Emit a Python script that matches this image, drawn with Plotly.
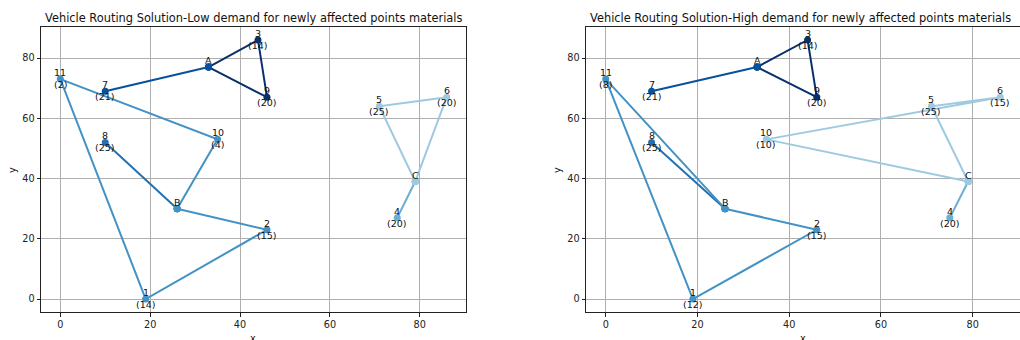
import plotly.graph_objects as go

# ---- data ----
node_names = ["1", "2", "3", "4", "5", "6", "7", "8", "9", "10", "11", "A", "B", "C"]
node_x = [19, 46, 44, 75, 71, 86, 10, 10, 46, 35, 0, 33, 26, 79]
node_y = [0, 23, 86, 27, 64, 67, 69, 52, 67, 53, 73, 77, 30, 39]
depots = ["A", "B", "C"]

demand_low = [14, 15, 14, 20, 25, 20, 21, 25, 20, 4, 2]
demand_high = [12, 15, 14, 20, 25, 15, 21, 25, 20, 10, 8]

routes_low = [
    ["A", "3", "9", "A"],
    ["A", "7", "A"],
    ["B", "8", "B"],
    ["B", "10", "11", "1", "2", "B"],
    ["C", "4", "C"],
    ["C", "5", "6", "C"],
]
routes_high = [
    ["A", "3", "9", "A"],
    ["A", "7", "A"],
    ["B", "8", "B"],
    ["B", "11", "1", "2", "B"],
    ["C", "4", "C"],
    ["C", "10", "6", "5", "C"],
]
route_colors = ["#08306b", "#08519c", "#2171b5", "#4292c6", "#6baed6", "#9ecae1"]

titles = [
    "Vehicle Routing Solution-Low demand for newly affected points materials",
    "Vehicle Routing Solution-High demand for newly affected points materials",
]
tick_vals = [0, 20, 40, 60, 80]

# ---- layout geometry ----
W, H = 1020, 340
FONT = "DejaVu Sans"
x_domains = [[41 / W, 466 / W], [586 / W, 1.0]]
y_domain = [28 / H, 313 / H]
x_range = [-4.3, 90.3]
y_range = [-4.3, 90.3]

pos = {n: (x, y) for n, x, y in zip(node_names, node_x, node_y)}

fig = go.Figure()
annotations = []

for p, (routes, demands) in enumerate([(routes_low, demand_low), (routes_high, demand_high)]):
    xa = "x" if p == 0 else "x2"
    ya = "y" if p == 0 else "y2"
    for r, color in zip(routes, route_colors):
        fig.add_trace(go.Scatter(
            x=[pos[n][0] for n in r], y=[pos[n][1] for n in r],
            mode="lines+markers", xaxis=xa, yaxis=ya,
            line=dict(color=color, width=2),
            marker=dict(color=color, size=7),
            showlegend=False, hoverinfo="skip",
        ))
    # node labels
    for i, n in enumerate(node_names):
        x, y = pos[n]
        annotations.append(dict(
            x=x, y=y, xref=xa, yref=ya, text=n, showarrow=False,
            xanchor="center", yanchor="bottom", yshift=-1,
            font=dict(family=FONT, size=9.5, color="#111"),
        ))
        if n not in depots:
            annotations.append(dict(
                x=x, y=y, xref=xa, yref=ya, text="(%d)" % demands[i], showarrow=False,
                xanchor="center", yanchor="top", yshift=2,
                font=dict(family=FONT, size=9.5, color="#111"),
            ))
    # title
    cx = (x_domains[p][0] + x_domains[p][1]) / 2
    if p == 1:
        cx = (586 + 1014) / 2 / W
    annotations.append(dict(
        x=cx, y=(H - 27) / H, xref="paper", yref="paper", text=titles[p],
        showarrow=False, xanchor="center", yanchor="bottom",
        font=dict(family=FONT, size=11.4, color="#111"),
    ))
    # axis labels
    xl = [253, 803][p]
    annotations.append(dict(
        x=xl / W, y=(H - 331) / H, xref="paper", yref="paper", text="x",
        showarrow=False, xanchor="center", yanchor="top",
        font=dict(family=FONT, size=9.7, color="#111"),
    ))
    yl = [12, 557][p]
    annotations.append(dict(
        x=yl / W, y=(H - 170) / H, xref="paper", yref="paper", text="y",
        showarrow=False, xanchor="center", yanchor="middle", textangle=-90,
        font=dict(family=FONT, size=9.7, color="#111"),
    ))

axis_common = dict(
    showgrid=True, gridcolor="#b0b0b0", gridwidth=1,
    showline=True, linecolor="#222", linewidth=1, mirror=True,
    ticks="outside", ticklen=3.5, tickwidth=1, tickcolor="#222",
    tickvals=tick_vals, zeroline=False,
    tickfont=dict(family=FONT, size=9.7, color="#222"),
)

fig.update_layout(
    width=W, height=H,
    margin=dict(l=0, r=0, t=0, b=0),
    paper_bgcolor="white", plot_bgcolor="white",
    xaxis=dict(domain=x_domains[0], range=x_range, anchor="y", **axis_common),
    yaxis=dict(domain=y_domain, range=y_range, anchor="x", **axis_common),
    xaxis2=dict(domain=x_domains[1], range=x_range, anchor="y2", **axis_common),
    yaxis2=dict(domain=y_domain, range=y_range, anchor="x2", **axis_common),
    annotations=annotations,
    font=dict(family=FONT),
)

fig.write_html(
    "out.html",
    config={"displayModeBar": False},
    post_script="document.body.style.margin='0';document.body.style.overflow='hidden';",
)
